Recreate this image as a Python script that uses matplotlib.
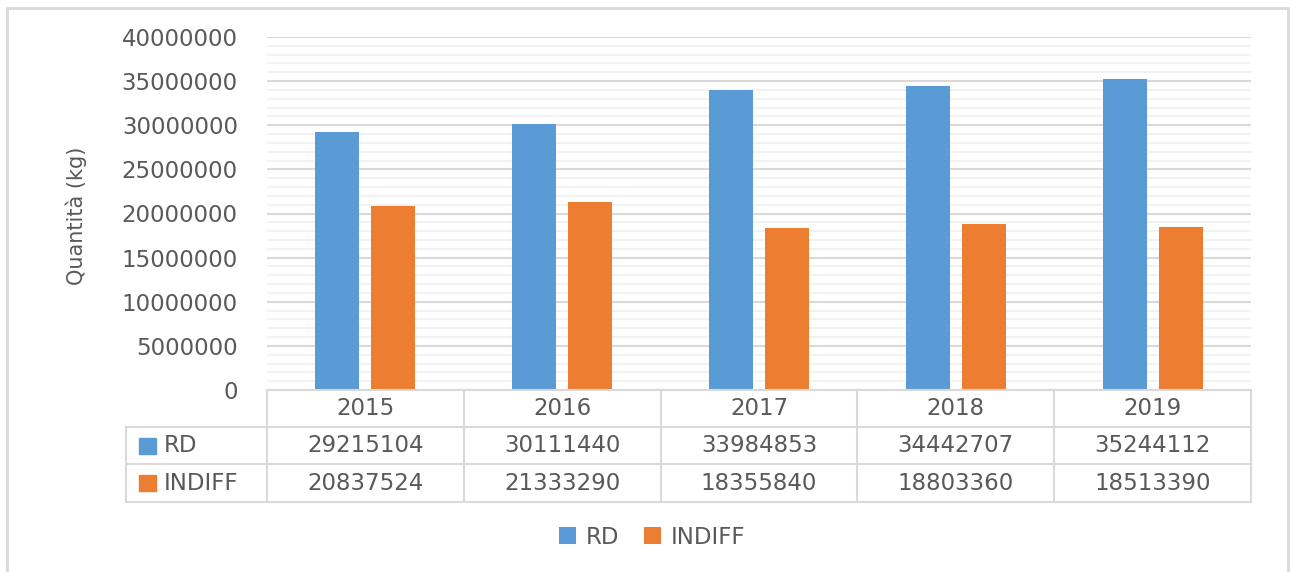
import numpy as np
import matplotlib
matplotlib.use("Agg")
import matplotlib.pyplot as plt
from matplotlib.patches import Rectangle
from matplotlib.lines import Line2D
from matplotlib.ticker import MultipleLocator, FuncFormatter
import matplotlib.transforms as mtransforms

anni = ["2015", "2016", "2017", "2018", "2019"]
rd = [29215104, 30111440, 33984853, 34442707, 35244112]
indiff = [20837524, 21333290, 18355840, 18803360, 18513390]
serie = ["RD", "INDIFF"]

blu = "#5B9BD5"
arancio = "#ED7D31"
grigio = "#595959"
bordo = "#D9D9D9"

plt.rcParams["font.family"] = ["DejaVu Sans"]
fs = 16.5

W, H = 1290, 572
fig = plt.figure(figsize=(W / 100, H / 100), dpi=100)

def fx(px):
    return px / W

def fy(py):
    return 1 - py / H

# bordo esterno del grafico
fig.patches.append(Rectangle((fx(7), fy(600)), fx(1288) - fx(7), fy(8) - fy(600),
                             transform=fig.transFigure, fill=False,
                             edgecolor=bordo, lw=2))

ax = fig.add_axes([fx(267), fy(390), fx(1251) - fx(267), fy(37) - fy(390)])

x = np.arange(len(anni))
larg = 0.224
off = 0.142
b1 = ax.bar(x - off, rd, larg, color=blu, zorder=3, label="RD")
b2 = ax.bar(x + off, indiff, larg, color=arancio, zorder=3, label="INDIFF")

ax.set_xlim(-0.5, len(anni) - 0.5)
ax.set_ylim(0, 40000000)
ax.yaxis.set_major_locator(MultipleLocator(5000000))
ax.yaxis.set_minor_locator(MultipleLocator(1000000))
ax.yaxis.set_major_formatter(FuncFormatter(lambda v, p: "%d" % v))
ax.grid(axis="y", which="major", color=bordo, lw=1.5, zorder=0)
ax.grid(axis="y", which="minor", color="#F2F2F2", lw=1.5, zorder=0)
ax.tick_params(axis="y", which="minor", length=0)
ax.tick_params(axis="y", which="major", length=0, pad=21, labelsize=fs, labelcolor=grigio)
ax.set_xticks([])
for s in ax.spines.values():
    s.set_visible(False)

fig.text(fx(76), fy(216), "Quantità (kg)", rotation=90, ha="center", va="center",
         fontsize=15, color=grigio)

# tabella dati sotto il grafico
tr = mtransforms.blended_transform_factory(ax.transData, fig.transFigure)
righe = [390, 427, 464, 502]
sx_lab = -0.5 - (267 - 126) / 196.8
lw_t = 1.5

def linea(xs, ys):
    fig.lines.append(Line2D(xs, ys, transform=tr, color=bordo, lw=lw_t))

linea([-0.5, len(anni) - 0.5], [fy(righe[0])] * 2)
for r in righe[1:]:
    linea([sx_lab, len(anni) - 0.5], [fy(r)] * 2)
for i in range(len(anni) + 1):
    linea([i - 0.5] * 2, [fy(righe[0]), fy(righe[-1])])
linea([sx_lab] * 2, [fy(righe[1]), fy(righe[-1])])

def centro(k):
    return fy((righe[k] + righe[k + 1]) / 2)

for i, a in enumerate(anni):
    fig.text(i, centro(0), a, transform=tr, ha="center", va="center",
             fontsize=fs, color=grigio)
    fig.text(i, centro(1), str(rd[i]), transform=tr, ha="center", va="center",
             fontsize=fs, color=grigio)
    fig.text(i, centro(2), str(indiff[i]), transform=tr, ha="center", va="center",
             fontsize=fs, color=grigio)

for k, (nome, col) in enumerate(zip(serie, [blu, arancio])):
    cy = (righe[k + 1] + righe[k + 2]) / 2
    fig.patches.append(Rectangle((fx(139), fy(cy + 8)), fx(156) - fx(139), fy(cy - 8) - fy(cy + 8),
                                 transform=fig.transFigure, color=col))
    fig.text(fx(164), fy(cy), nome, ha="left", va="center", fontsize=fs, color=grigio)

leg = fig.legend(handles=[b1, b2], labels=serie, loc="center",
                 bbox_to_anchor=(fx(652), fy(537)), ncol=2, frameon=False,
                 fontsize=fs, handlelength=0.75, handleheight=0.75,
                 handletextpad=0.4, columnspacing=1.1)
for t in leg.get_texts():
    t.set_color(grigio)

fig.savefig("out.png", dpi=100)
